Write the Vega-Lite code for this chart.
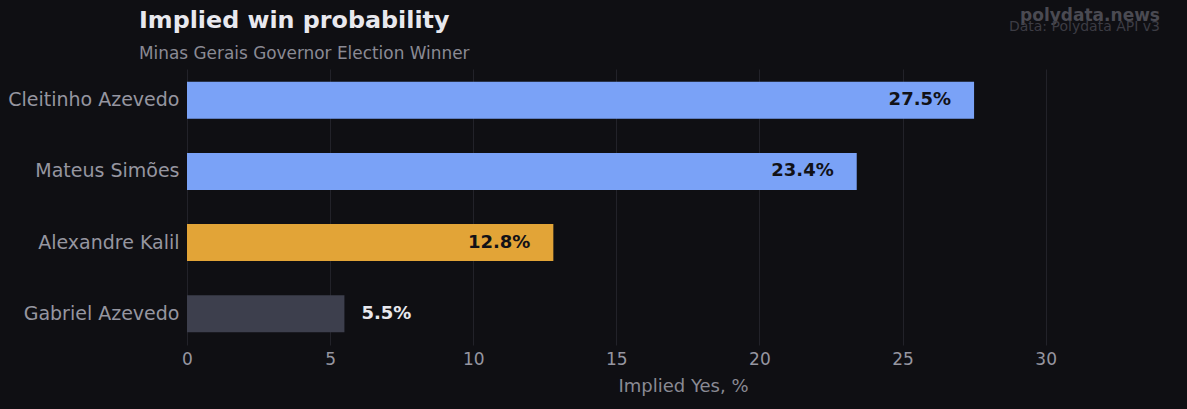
{
  "$schema": "https://vega.github.io/schema/vega-lite/v6.json",
  "autosize": {"type": "none"},
  "padding": {"left": 187, "top": 69, "right": 8, "bottom": 64},
  "width": 992,
  "height": 276,
  "background": "#0f0f13",
  "title": {
    "text": "Implied win probability",
    "subtitle": "Minas Gerais Governor Election Winner",
    "anchor": "start",
    "frame": "group",
    "dx": -48,
    "offset": -55,
    "font": "DejaVu Sans",
    "fontSize": 23.8,
    "fontWeight": "bold",
    "color": "#e8e8ee",
    "subtitleFont": "DejaVu Sans",
    "subtitleFontSize": 16.9,
    "subtitleColor": "#8a8a94",
    "subtitlePadding": 13
  },
  "config": {
    "font": "DejaVu Sans",
    "view": {"fill": "#141419", "stroke": null},
    "axis": {
      "gridColor": "#222229",
      "gridWidth": 1,
      "domain": false,
      "ticks": false,
      "labelColor": "#9696a0",
      "labelFont": "DejaVu Sans",
      "titleFont": "DejaVu Sans",
      "titleColor": "#8a8a94",
      "titleFontWeight": "normal"
    }
  },
  "data": {
    "values": [
      {"candidate": "Cleitinho Azevedo", "pct": 27.5, "group": "lead"},
      {"candidate": "Mateus Simões", "pct": 23.4, "group": "lead"},
      {"candidate": "Alexandre Kalil", "pct": 12.8, "group": "mid"},
      {"candidate": "Gabriel Azevedo", "pct": 5.5, "group": "low"}
    ]
  },
  "transform": [
    {"calculate": "format(datum.pct, '.1f') + '%'", "as": "label"}
  ],
  "encoding": {
    "y": {
      "field": "candidate",
      "type": "nominal",
      "sort": null,
      "scale": {"paddingInner": 0.48, "paddingOuter": 0.18},
      "axis": {"title": null, "grid": false, "labelPadding": 8, "labelFontSize": 19}
    },
    "x": {
      "field": "pct",
      "type": "quantitative",
      "scale": {"domain": [0, 34.66], "nice": false, "zero": true},
      "axis": {
        "title": "Implied Yes, %",
        "values": [0, 5, 10, 15, 20, 25, 30],
        "grid": true,
        "labelFlush": false,
        "labelFontSize": 17,
        "labelPadding": 6,
        "titleFontSize": 18,
        "titlePadding": 10
      }
    }
  },
  "layer": [
    {
      "mark": {"type": "bar"},
      "encoding": {
        "color": {
          "field": "group",
          "type": "nominal",
          "scale": {
            "domain": ["lead", "mid", "low"],
            "range": ["#7aa2f7", "#e2a437", "#3d3f4d"]
          },
          "legend": null
        }
      }
    },
    {
      "transform": [{"filter": "datum.pct >= 10"}],
      "mark": {
        "type": "text",
        "align": "right",
        "baseline": "middle",
        "dx": -23,
        "fontSize": 18,
        "fontWeight": "bold",
        "color": "#121217"
      },
      "encoding": {"text": {"field": "label"}}
    },
    {
      "transform": [{"filter": "datum.pct < 10"}],
      "mark": {
        "type": "text",
        "align": "left",
        "baseline": "middle",
        "dx": 17,
        "fontSize": 18,
        "fontWeight": "bold",
        "color": "#e8e8ee"
      },
      "encoding": {"text": {"field": "label"}}
    },
    {
      "data": {"values": [{"line1": "polydata.news", "line2": "Data: Polydata API v3"}]},
      "mark": {
        "type": "text",
        "align": "right",
        "baseline": "alphabetic",
        "fontSize": 17,
        "fontWeight": "bold",
        "color": "#4a4a52",
        "x": {"expr": "width - 19"},
        "y": -48
      },
      "encoding": {"text": {"field": "line1"}, "x": null, "y": null}
    },
    {
      "data": {"values": [{"line1": "polydata.news", "line2": "Data: Polydata API v3"}]},
      "mark": {
        "type": "text",
        "align": "right",
        "baseline": "alphabetic",
        "fontSize": 14,
        "color": "#3c3c44",
        "x": {"expr": "width - 19"},
        "y": -38
      },
      "encoding": {"text": {"field": "line2"}, "x": null, "y": null}
    }
  ]
}
